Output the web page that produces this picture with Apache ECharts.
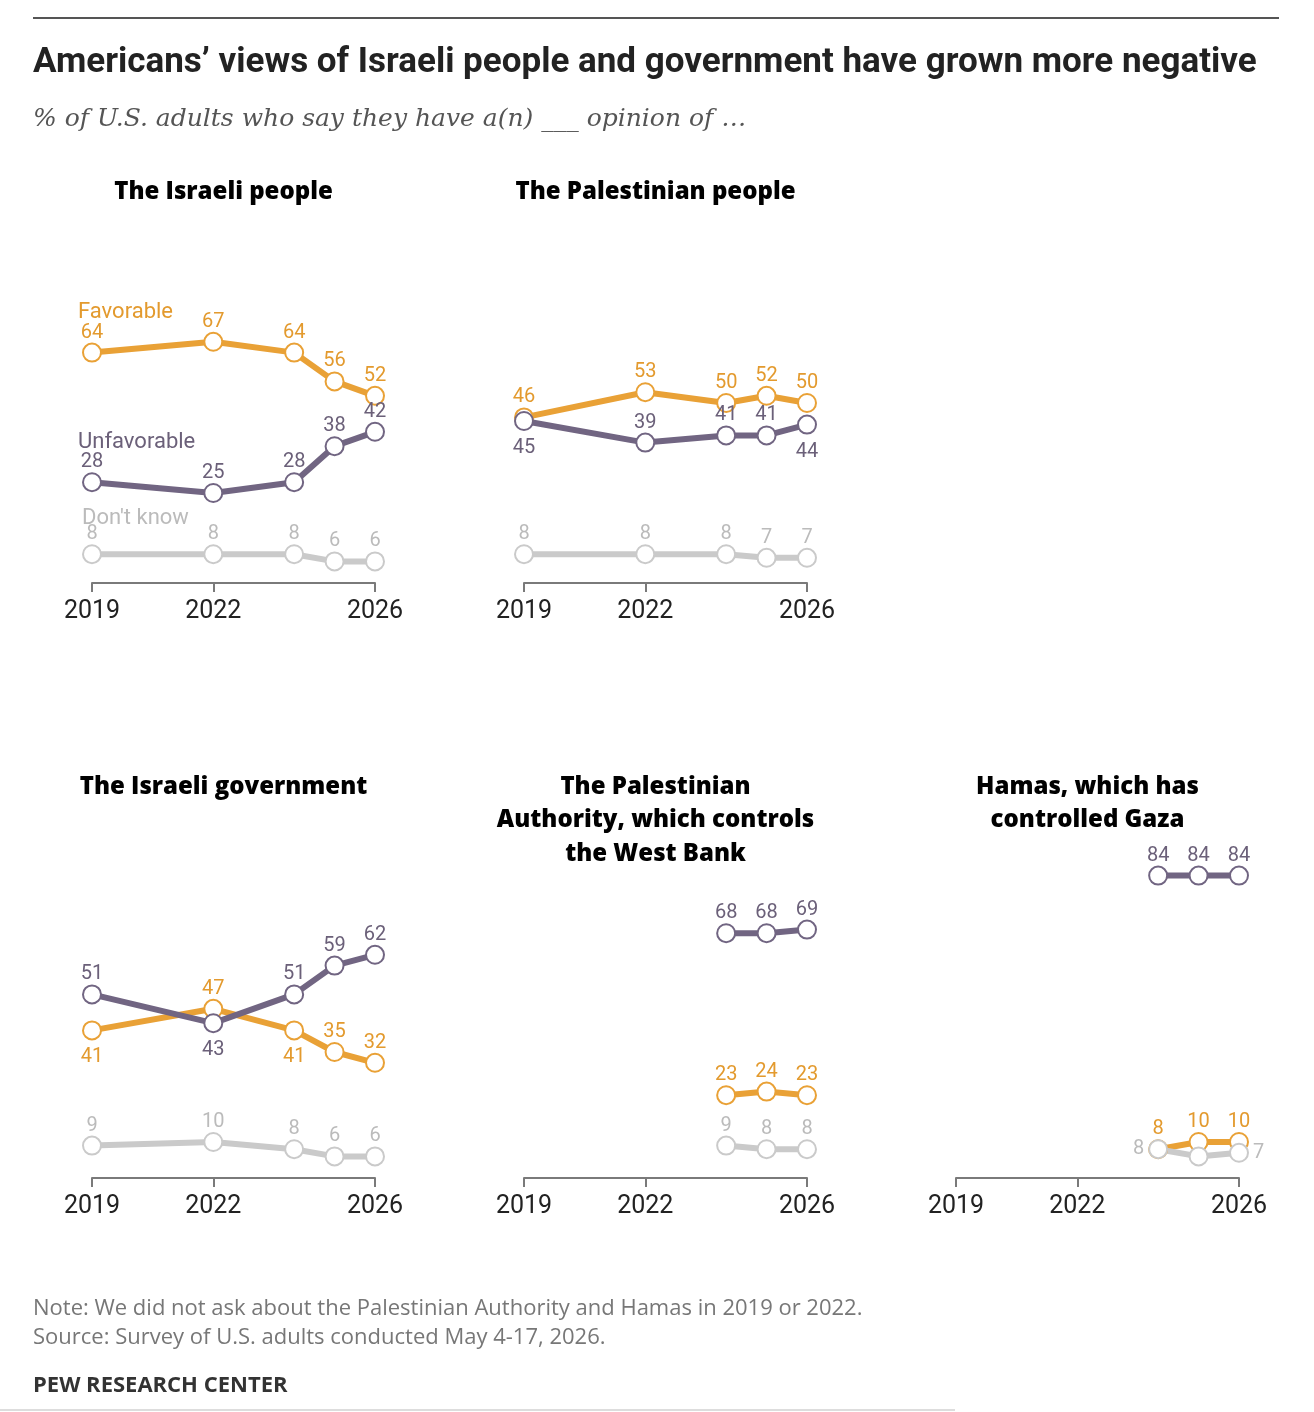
<!DOCTYPE html>
<html>
<head>
<meta charset="utf-8">
<style>
html,body{margin:0;padding:0;background:#fff;}
#chart{width:1314px;height:1412px;}
</style>
<script src="https://cdn.jsdelivr.net/npm/echarts@6/dist/echarts.min.js"></script>
</head>
<body>
<div id="chart"></div>
<script>
// ---------- data ----------
var yearsFull = [2019, 2022, 2024, 2025, 2026];
var yearsRecent = [2024, 2025, 2026];
var tickYears = [2019, 2022, 2026];

var israeliPeopleFav = [64, 67, 64, 56, 52];
var israeliPeopleUnfav = [28, 25, 28, 38, 42];
var israeliPeopleDK = [8, 8, 8, 6, 6];

var palPeopleFav = [46, 53, 50, 52, 50];
var palPeopleUnfav = [45, 39, 41, 41, 44];
var palPeopleDK = [8, 8, 8, 7, 7];

var israeliGovFav = [41, 47, 41, 35, 32];
var israeliGovUnfav = [51, 43, 51, 59, 62];
var israeliGovDK = [9, 10, 8, 6, 6];

var paFav = [23, 24, 23];
var paUnfav = [68, 68, 69];
var paDK = [9, 8, 8];

var hamasFav = [8, 10, 10];
var hamasUnfav = [84, 84, 84];
var hamasDK = [8, 6, 7];

var panelTitles = [
  ['The Israeli people'],
  ['The Palestinian people'],
  ['The Israeli government'],
  ['The Palestinian', 'Authority, which controls', 'the West Bank'],
  ['Hamas, which has', 'controlled Gaza']
];

// ---------- styling ----------
var C_FAV = '#E9A136', C_UNF = '#716582', C_DK = '#CACACA';
var L_FAV = '#E39A2E', L_UNF = '#6B6079', L_DK = '#BBBBBB';
var FONT = 'Roboto, "Liberation Sans", sans-serif';
var FONT_W = '"Open Sans", Roboto, sans-serif';

// label placements (style, not data)
var T = 'top', B = 'bottom', Lf = 'left', R = 'right', H = 'hide';
var panels = [
  { years: yearsFull, left: 92, top: 223,
    fav: israeliPeopleFav, favPos: [T,T,T,T,T],
    unf: israeliPeopleUnfav, unfPos: [T,T,T,T,T],
    dk: israeliPeopleDK, dkPos: [T,T,T,T,T] },
  { years: yearsFull, left: 524, top: 223,
    fav: palPeopleFav, favPos: [T,T,T,T,T],
    unf: palPeopleUnfav, unfPos: [B,T,T,T,B],
    dk: palPeopleDK, dkPos: [T,T,T,T,T] },
  { years: yearsFull, left: 92, top: 818,
    fav: israeliGovFav, favPos: [B,T,B,T,T],
    unf: israeliGovUnfav, unfPos: [T,B,T,T,T],
    dk: israeliGovDK, dkPos: [T,T,T,T,T] },
  { years: yearsRecent, left: 524, top: 818,
    fav: paFav, favPos: [T,T,T],
    unf: paUnfav, unfPos: [T,T,T],
    dk: paDK, dkPos: [T,T,T] },
  { years: yearsRecent, left: 956, top: 818,
    fav: hamasFav, favPos: [T,T,T],
    unf: hamasUnfav, unfPos: [T,T,T],
    dk: hamasDK, dkPos: [Lf,H,R] }
];
var GRID_W = 283, GRID_H = 360;

var grids = [], xAxes = [], yAxes = [], series = [], graphics = [];

function mkData(years, vals, pos) {
  return vals.map(function (v, i) {
    var p = pos[i];
    var item = { value: [years[i], v] };
    if (p === 'hide') item.label = { show: false };
    else item.label = { position: p, distance: p === 'bottom' ? 7 : (p === 'top' ? 0 : 4) };
    return item;
  });
}

function mkSeries(idx, name, years, vals, pos, lineColor, labelColor) {
  return {
    type: 'line', name: name, xAxisIndex: idx, yAxisIndex: idx,
    data: mkData(years, vals, pos),
    symbol: 'circle', symbolSize: 18,
    itemStyle: { color: '#fff', borderColor: lineColor, borderWidth: 2 },
    lineStyle: { color: lineColor, width: 6 },
    label: { show: true, color: labelColor, fontSize: 20, fontFamily: FONT,
             formatter: function (p) { return p.value[1]; } },
    emphasis: { disabled: true },
    silent: true, animation: false, z: 3
  };
}

panels.forEach(function (p, i) {
  grids.push({ left: p.left, top: p.top, width: GRID_W, height: GRID_H });
  xAxes.push({
    type: 'value', gridIndex: i, min: 2019, max: 2026,
    axisLine: { show: true, lineStyle: { color: '#7a7a7a', width: 2 } },
    axisTick: { show: true, customValues: tickYears, length: 9,
                lineStyle: { color: '#7a7a7a', width: 2 } },
    axisLabel: { show: true, customValues: tickYears, fontSize: 25, color: '#222',
                 fontFamily: FONT, margin: 16, formatter: function (v) { return String(v); } },
    splitLine: { show: false }
  });
  yAxes.push({ type: 'value', gridIndex: i, min: 0, max: 100, show: false });
  series.push(mkSeries(i, 'Favorable', p.years, p.fav, p.favPos, C_FAV, L_FAV));
  series.push(mkSeries(i, "Don't know", p.years, p.dk, p.dkPos, C_DK, L_DK));
  series.push(mkSeries(i, 'Unfavorable', p.years, p.unf, p.unfPos, C_UNF, L_UNF));

  // panel title
  var lines = panelTitles[i];
  lines.forEach(function (t, j) {
    graphics.push({ type: 'text', style: {
      text: t, x: p.left + GRID_W / 2 - 10, y: (p.top < 500 ? 192 : 787) + j * 33.5,
      align: 'center', verticalAlign: 'middle',
      font: '800 24px ' + FONT_W, fill: '#000' } });
  });
});

// headline, subtitle, inline legend, notes
graphics.push(
  { type: 'line', shape: { x1: 33, y1: 18, x2: 1279, y2: 18 },
    style: { stroke: '#555', lineWidth: 2 } },
  { type: 'text', style: { text: 'Americans\u2019 views of Israeli people and government have grown more negative',
    x: 33, y: 63, verticalAlign: 'middle', font: 'bold 35px ' + FONT, fill: '#222' } },
  { type: 'text', style: { text: '% of U.S. adults who say they have a(n) ___ opinion of \u2026',
    x: 33, y: 119, verticalAlign: 'middle', font: 'italic 25px "DejaVu Serif", "Liberation Serif", serif', fill: '#555' } },
  { type: 'text', style: { text: 'Favorable', x: 78, y: 312, verticalAlign: 'middle',
    font: '22px ' + FONT, fill: L_FAV } },
  { type: 'text', style: { text: 'Unfavorable', x: 78, y: 442, verticalAlign: 'middle',
    font: '22px ' + FONT, fill: L_UNF } },
  { type: 'text', style: { text: "Don't know", x: 82, y: 518, verticalAlign: 'middle',
    font: '22px ' + FONT, fill: L_DK } },
  { type: 'text', style: { text: 'Note: We did not ask about the Palestinian Authority and Hamas in 2019 or 2022.',
    x: 33, y: 1309, verticalAlign: 'middle', font: '22px ' + FONT_W, fill: '#777' } },
  { type: 'text', style: { text: 'Source: Survey of U.S. adults conducted May 4-17, 2026.',
    x: 33, y: 1338, verticalAlign: 'middle', font: '22px ' + FONT_W, fill: '#777' } },
  { type: 'text', style: { text: 'PEW RESEARCH CENTER',
    x: 33, y: 1386, verticalAlign: 'middle', font: 'bold 22px ' + FONT_W, fill: '#333' } },
  { type: 'line', shape: { x1: 0, y1: 1410, x2: 955, y2: 1410 },
    style: { stroke: '#dddddd', lineWidth: 2 } }
);

var chart = echarts.init(document.getElementById('chart'), null, { renderer: 'canvas' });
chart.setOption({
  backgroundColor: '#fff',
  animation: false,
  grid: grids, xAxis: xAxes, yAxis: yAxes, series: series,
  graphic: graphics
});
</script>
</body>
</html>
